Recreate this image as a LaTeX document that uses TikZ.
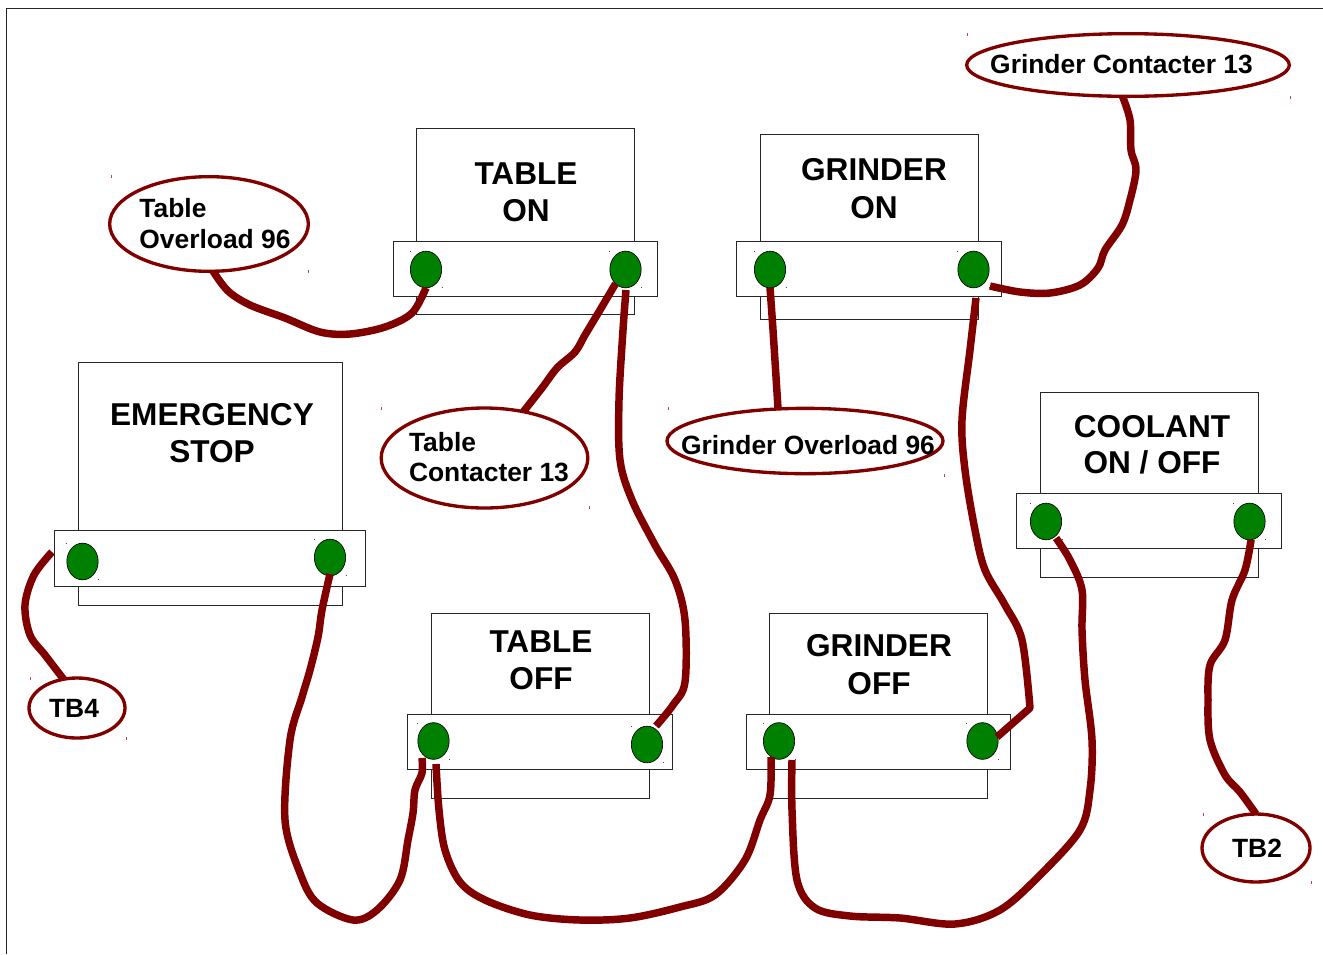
\documentclass[tikz,border=0pt]{standalone}
\usepackage{fontspec}
\setmainfont{Liberation Sans}
\usetikzlibrary{shapes.geometric}
\definecolor{wirered}{HTML}{800000}
\definecolor{termgreen}{HTML}{008000}
\tikzset{
  panel/.style={draw=black!85,line width=0.75pt,fill=white,xshift=-0.18pt,yshift=0.18pt},
  term/.style={ellipse,draw=black,line width=0.5pt,fill=termgreen,minimum width=23.5pt,minimum height=27.5pt,inner sep=0pt,outer sep=0pt},
  tag/.style={ellipse,draw=wirered,line width=2.5pt,fill=white,inner sep=0pt,outer sep=0pt},
  wire/.style={draw=wirered,line width=5.6pt,line join=round,line cap=butt},
  bigtext/.style={font=\fontsize{23.7}{28}\selectfont\bfseries,align=center,inner sep=0pt,text=black},
  bigtighter/.style={font=\fontsize{23.7}{27.2}\selectfont\bfseries,align=center,inner sep=0pt,text=black},
  smalltext/.style={font=\fontsize{19.8}{22.6}\selectfont\bfseries,align=left,inner sep=0pt,text=black},
  speck/.style={fill=wirered!70,draw=none},
  dot/.style={fill=black!70,draw=none}
}
\begin{document}
\begin{tikzpicture}[x=0.75pt,y=-0.75pt]
\useasboundingbox (0,0) rectangle (1323,954);
\fill[white] (0,0) rectangle (1323,954);
\draw[black!85,line width=0.75pt] (6.5,954) -- (6.5,8.5) -- (1323,8.5);
% switch bodies
\draw[panel] (417,129) rectangle (635,315);
\draw[panel] (394,242) rectangle (658,297);
\draw[panel] (761,135) rectangle (979,320);
\draw[panel] (737,242) rectangle (1002,297);
\draw[panel] (79,363) rectangle (343,606);
\draw[panel] (55,531) rectangle (366,587);
\draw[panel] (432,614) rectangle (650,799);
\draw[panel] (408,715) rectangle (673,770);
\draw[panel] (770,614) rectangle (988,799);
\draw[panel] (747,715) rectangle (1011,770);
\draw[panel] (1041,393) rectangle (1259,578);
\draw[panel] (1017,494) rectangle (1282,549);
% titles
\node[bigtext] (tTon) at (526,192.5) {TABLE\\ON};
\node[bigtext] (tGon) at (874,188.5) {GRINDER\\ON};
\node[bigtighter] (tEs) at (212,433) {EMERGENCY\\STOP};
\node[bigtext] (tToff) at (541,660.5) {TABLE\\OFF};
\node[bigtext] (tGoff) at (879,664.5) {GRINDER\\OFF};
\node[bigtighter] (tCool) at (1152,445) {COOLANT\\ON / OFF};
% terminals
\node[term] (ton1) at (426,269.5) {};
\node[term] (ton2) at (625.5,269.5) {};
\node[term] (gon1) at (770,269.5) {};
\node[term] (gon2) at (973.5,269.5) {};
\node[term] (es1) at (82.5,561.5) {};
\node[term] (es2) at (330,557.5) {};
\node[term] (toff1) at (433.5,741) {};
\node[term] (toff2) at (647,744.5) {};
\node[term] (goff1) at (779,741) {};
\node[term] (goff2) at (982.5,741) {};
\node[term] (cl1) at (1046,521.5) {};
\node[term] (cl2) at (1249.5,521.5) {};
\foreach \x/\y in {426/269,625/269,770/269,973/269,82/561,330/557,433/741,647/744,779/741,982/741,1046/521,1249/521}{
  \fill[dot] (\x-16,\y-18) rectangle +(1,1);
  \fill[dot] (\x+16,\y+18) rectangle +(1,1);
}
% tag ellipses
\node[tag,minimum width=242pt,minimum height=47pt] (tagGC) at (1128,65) {};
\node[tag,minimum width=149pt,minimum height=71pt] (tagTO) at (209,224) {};
\node[tag,minimum width=155pt,minimum height=75pt] (tagTC) at (484.5,458) {};
\node[tag,minimum width=207pt,minimum height=49pt] (tagGO) at (805,441) {};
\node[tag,minimum width=72pt,minimum height=45pt] (tagB4) at (77,708) {};
\node[tag,minimum width=81pt,minimum height=51pt] (tagB2) at (1256,848) {};
\foreach \x/\y in {967/33,1290/96,111/175,308/270,381/407,589/506,668/407,944/474,30/677,126/737,1203/813,1311/881}{
  \fill[speck] (\x,\y) rectangle +(1,3);
}
% free wire ends that stop short of a terminal
\coordinate (w3a) at (626,290);
\coordinate (w3b) at (656,726);
\coordinate (w5a) at (990,286);
\coordinate (w6a) at (976,298);
\coordinate (w6b) at (997,737);
\coordinate (w7a) at (52,552);
\coordinate (w8a) at (330,574);
\coordinate (w8b) at (422,758);
\coordinate (w9a) at (436,764);
\coordinate (w9b) at (771,757);
\coordinate (w10a) at (792,760);
\coordinate (w10b) at (1056,538);
% wires
\draw[wire] plot[smooth,tension=0.55] coordinates {(tagTO.-85) (228,291) (250,305) (285,318) (320,332) (350,334) (385,327) (412,313) (ton1.south)};
\draw[wire] plot[smooth,tension=0.55] coordinates {(ton2.-125) (600,310) (585,335) (575,352) (557,368) (542,388) (tagTC.50)};
\draw[wire] plot[smooth,tension=0.55] coordinates {(w3a) (623,330) (619,400) (620,460) (632,500) (655,545) (675,580) (685,620) (685,682) (673,705) (w3b)};
\draw[wire] plot[smooth,tension=0.55] coordinates {(gon1.south) (773,330) (tagGO.north -| 778,0)};
\draw[wire] plot[smooth,tension=0.55] coordinates {(w5a) (1020,292) (1050,293) (1080,285) (1098,268) (1105,250) (1122,225) (1130,200) (1136,170) (1131,150) (1130,120) (tagGC.-100)};
\draw[wire] plot[smooth,tension=0.55] coordinates {(w6a) (970,350) (962,420) (965,470) (975,530) (985,570) (1005,605) (1022,640) (1030,708)} -- (w6b);
\draw[wire] plot[smooth,tension=0.55] coordinates {(w7a) (34,575) (25,605) (30,635) (45,655) (tagB4.115)};
\draw[wire] plot[smooth,tension=0.55] coordinates {(w8a) (322,610) (318,637) (310,670) (302,697) (290,740) (285,820) (300,873) (317,903) (353,920) (377,910) (400,880) (408,840) (413,813) (415,790) (422,773) (w8b)};
\draw[wire] plot[smooth,tension=0.55] coordinates {(w9a) (439,810) (445,850) (460,882) (485,900) (530,915) (580,920) (630,918) (680,907) (715,895) (745,860) (760,820) (770,795) (w9b)};
\draw[wire] plot[smooth,tension=0.55] coordinates {(w10a) (792,810) (797,880) (815,908) (850,916) (900,918) (955,924) (1000,910) (1040,875) (1080,830) (1090,790) (1092,740) (1085,680) (1082,630) (1082,590) (1070,560) (w10b)};
\draw[wire] plot[smooth,tension=0.55] coordinates {(cl2.-85) (1245,570) (1232,600) (1225,640) (1210,665) (1208,700) (1210,740) (1225,775) (1240,792) (tagB2.north)};
% tag texts
\node[smalltext] (lGC) at (1121.5,64) {Grinder Contacter 13};
\node[smalltext] (lTO) at (215,223.5) {Table\\Overload 96};
\node[smalltext] (lTC) at (489,457) {Table\\Contacter 13};
\node[smalltext] (lGO) at (808,445) {Grinder Overload 96};
\node[smalltext] (lB4) at (74,708) {TB4};
\node[smalltext] (lB2) at (1257,848) {TB2};
\end{tikzpicture}
\end{document}
